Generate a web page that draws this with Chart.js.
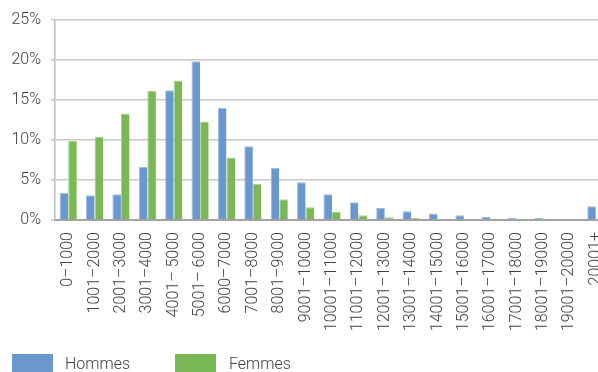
<!DOCTYPE html>
<html>
<head>
<meta charset="utf-8">
<script src="https://cdn.jsdelivr.net/npm/chart.js@4/dist/chart.umd.min.js"></script>
<style>
  html, body { margin: 0; padding: 0; background: #fff; width: 598px; height: 372px; overflow: hidden; }
  #wrap { position: relative; width: 612px; height: 372px; }
  canvas { position: absolute; left: 0; top: 0; }
  .lg-item { position: absolute; top: 354px; height: 20px; font: 300 16px Roboto, sans-serif; color: #404040; }
  .lg-box { position: absolute; top: 0; width: 41px; height: 20px; }
  .lg-text { position: absolute; top: 0; line-height: 19px; white-space: nowrap; }
</style>
</head>
<body>
<div id="wrap">
  <canvas id="c" width="612" height="372"></canvas>
  <div id="legend"></div>
</div>
<script>
// Salary brackets (income ranges)
const categories = [
  '0–1000', '1001–2000', '2001–3000', '3001–4000', '4001– 5000', '5001– 6000',
  '6000–7000', '7001–8000', '8001–9000', '9001–10000', '10001–11000',
  '11001–12000', '12001–13000', '13001–14000', '14001–15000', '15001–16000',
  '16001–17000', '17001–18000', '18001–19000', '19001–20000', '20001+'
];

// Share of each group per bracket, in percent
const hommes = [3.4, 3.1, 3.2, 6.6, 16.2, 19.8, 14.0, 9.2, 6.5, 4.7, 3.2,
                2.2, 1.5, 1.1, 0.8, 0.6, 0.4, 0.25, 0.25, 0.12, 1.7];
const femmes = [9.9, 10.4, 13.3, 16.1, 17.4, 12.3, 7.8, 4.5, 2.6, 1.6, 1.0,
                0.6, 0.35, 0.25, 0.12, 0.05, 0.03, 0.02, 0.02, 0.02, 0.1];

const yTicks = [0, 5, 10, 15, 20, 25];

const BLUE = '#6b97cf';
const GREEN = '#79b854';
const TEXT = '#404040';
const FONT = { family: 'Roboto, sans-serif', size: 16, weight: 300 };

const chart = new Chart(document.getElementById('c'), {
  type: 'bar',
  data: {
    labels: categories,
    datasets: [
      { label: 'Hommes', data: hommes, backgroundColor: BLUE, borderColor: '#9dbbe2', borderWidth: { top: 1, left: 1, right: 0, bottom: 0 } },
      { label: 'Femmes', data: femmes, backgroundColor: GREEN, borderColor: '#a6d48a', borderWidth: { top: 1, left: 1, right: 0, bottom: 0 } }
    ]
  },
  options: {
    responsive: false,
    animation: false,
    devicePixelRatio: 1,
    layout: { padding: { top: 19, left: 0, right: 3, bottom: 0 } },
    datasets: { bar: { categoryPercentage: 0.65, barPercentage: 1.0 } },
    plugins: { legend: { display: false }, tooltip: { enabled: false } },
    scales: {
      x: {
        offset: true,
        grid: { display: false, drawTicks: false },
        border: { display: true, color: '#a3a3a3', width: 2 },
        ticks: { autoSkip: false, maxRotation: 90, minRotation: 90, padding: 12, color: TEXT, font: FONT },
        afterFit: s => { s.height = 152; s.paddingRight = 0; s.paddingLeft = 0; }
      },
      y: {
        min: 0,
        max: 25,
        afterBuildTicks: s => { s.ticks = yTicks.map(v => ({ value: v })); },
        grid: {
          color: '#c8c8c8',
          lineWidth: 1.5,
          tickLength: 4,
          drawTicks: true
        },
        border: { display: true, color: '#bdbdbd', width: 1.5 },
        ticks: { padding: 10, color: TEXT, font: FONT, callback: v => v + '%' },
        afterFit: s => { s.width = 55; }
      }
    }
  }
});

// Legend built from the chart's datasets
const legendPos = [{ box: 12, text: 65 }, { box: 175, text: 229 }];
const legend = document.getElementById('legend');
chart.data.datasets.forEach((ds, i) => {
  const item = document.createElement('div');
  item.className = 'lg-item';
  item.style.left = '0px';
  const box = document.createElement('div');
  box.className = 'lg-box';
  box.style.left = legendPos[i].box + 'px';
  box.style.background = ds.backgroundColor;
  const txt = document.createElement('div');
  txt.className = 'lg-text';
  txt.style.left = legendPos[i].text + 'px';
  txt.textContent = ds.label;
  item.appendChild(box);
  item.appendChild(txt);
  legend.appendChild(item);
});
</script>
</body>
</html>
